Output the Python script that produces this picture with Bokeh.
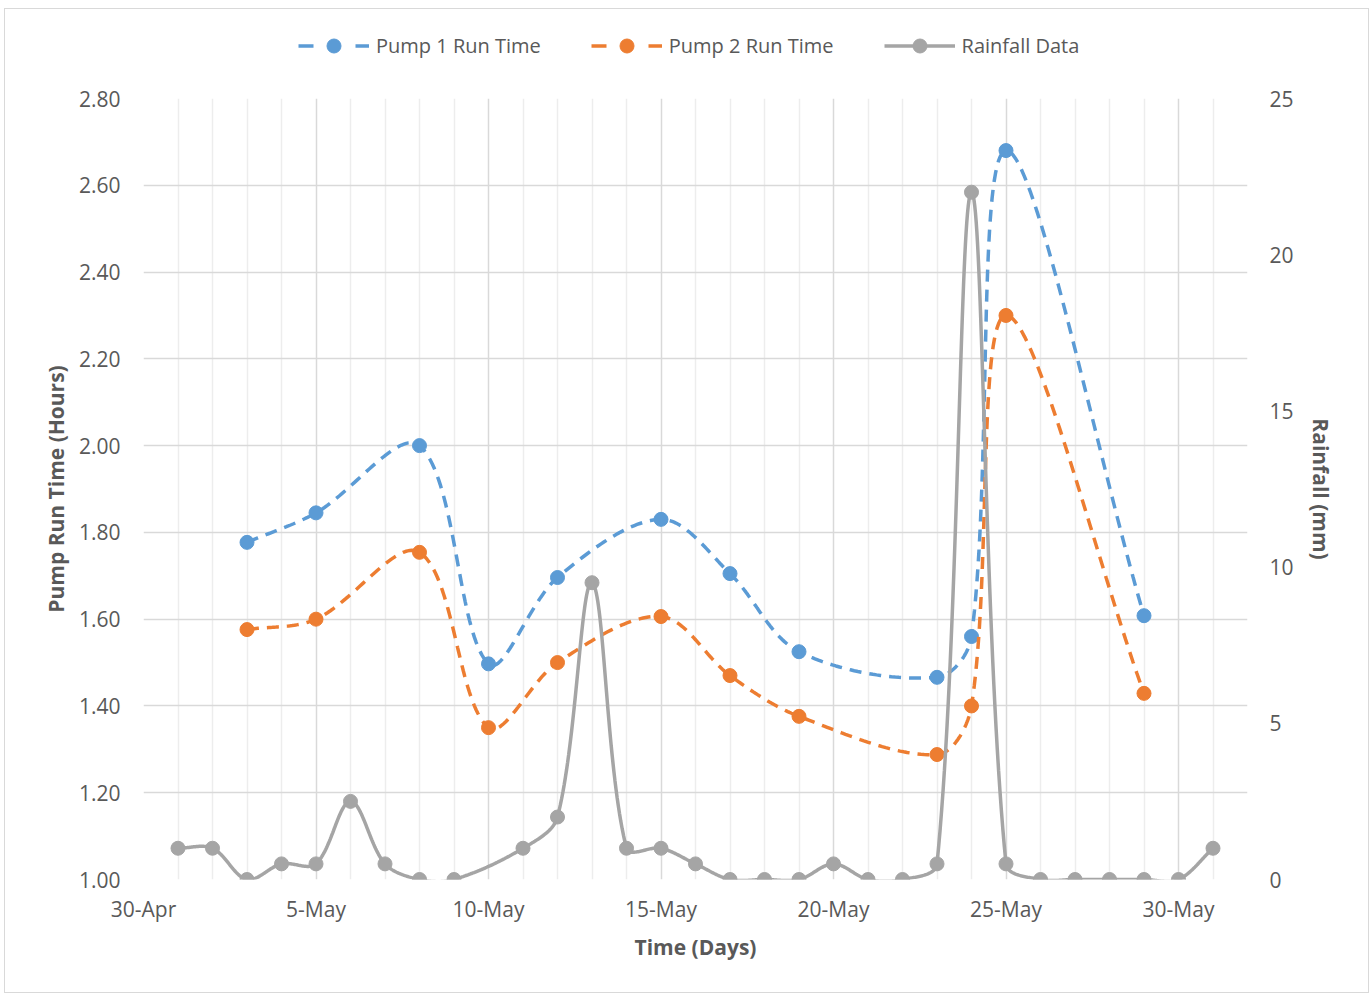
import numpy as np
import pandas as pd
from bokeh.plotting import figure
from bokeh.layouts import column
from bokeh.models import Range1d, LinearAxis, FixedTicker, Legend, LegendItem, PrintfTickFormatter
from bokeh.embed import file_html
from bokeh.resources import INLINE

# ---------------- data ----------------
start_date = "2017-04-30"
end_date = "2017-06-01"

pump_dates = ["2017-05-03", "2017-05-05", "2017-05-08", "2017-05-10", "2017-05-12", "2017-05-15",
              "2017-05-17", "2017-05-19", "2017-05-23", "2017-05-24", "2017-05-25", "2017-05-29"]
pump1_hours = [1.777, 1.845, 2.00, 1.497, 1.696, 1.83, 1.705, 1.525, 1.466, 1.56, 2.68, 1.608]
pump2_hours = [1.576, 1.60, 1.754, 1.35, 1.50, 1.606, 1.47, 1.376, 1.288, 1.40, 2.30, 1.429]

rain_dates = ["2017-05-01", "2017-05-02", "2017-05-03", "2017-05-04", "2017-05-05", "2017-05-06",
              "2017-05-07", "2017-05-08", "2017-05-09", "2017-05-10", "2017-05-11", "2017-05-12",
              "2017-05-13", "2017-05-14", "2017-05-15", "2017-05-16", "2017-05-17", "2017-05-18",
              "2017-05-19", "2017-05-20", "2017-05-21", "2017-05-22", "2017-05-23", "2017-05-24",
              "2017-05-25", "2017-05-26", "2017-05-27", "2017-05-28", "2017-05-29", "2017-05-30",
              "2017-05-31"]
rain_mm = [1.0, 1.0, 0.0, 0.5, 0.5, 2.5, 0.5, 0.0, 0.0, None, 1.0, 2.0, 9.5, 1.0, 1.0, 0.5,
           0.0, 0.0, 0.0, 0.5, 0.0, 0.0, 0.5, 22.0, 0.5, 0.0, 0.0, 0.0, 0.0, 0.0, 1.0]

x_tick_dates = ["2017-04-30", "2017-05-05", "2017-05-10", "2017-05-15", "2017-05-20", "2017-05-25", "2017-05-30"]
x_tick_labels = ["30-Apr", "5-May", "10-May", "15-May", "20-May", "25-May", "30-May"]
left_ticks = [1.0, 1.2, 1.4, 1.6, 1.8, 2.0, 2.2, 2.4, 2.6, 2.8]
right_ticks = [0, 5, 10, 15, 20, 25]

series_names = ["Pump 1 Run Time", "Pump 2 Run Time", "Rainfall Data"]
colors = ["#5B9BD5", "#ED7D31", "#A5A5A5"]

# ---------------- helpers ----------------
t0 = pd.Timestamp(start_date)
def day_num(ds):
    return np.array([(pd.Timestamp(d) - t0).days for d in ds], dtype=float)

x_end = day_num([end_date])[0]

W = 1363
LEG_H = 60          # legend strip height (above the plot)
BL, BT = 138, 29
FW, FH = 1104, 781
H = 923
BR, BB = W - BL - FW, H - BT - FH

def smooth(xs, ys, sx, sy, n=40):
    """Excel-like smoothed line (weighted Catmull-Rom Bezier) computed in screen space."""
    P = np.column_stack([np.asarray(xs) * sx, np.asarray(ys) * sy])
    m = len(P)
    outx, outy = [P[0, 0]], [P[0, 1]]
    tt = np.linspace(0, 1, n)[1:]
    for i in range(m - 1):
        p0 = P[i - 1] if i > 0 else P[i]
        p1, p2 = P[i], P[i + 1]
        p3 = P[i + 2] if i + 2 < m else P[i + 1]
        d01 = np.hypot(*(p1 - p0)); d12 = np.hypot(*(p2 - p1)); d23 = np.hypot(*(p3 - p2))
        w1 = d12 / (d01 + d12) if d01 + d12 > 0 else 0
        w2 = d12 / (d12 + d23) if d12 + d23 > 0 else 0
        c1 = p1 + (p2 - p0) * w1 / 3.0
        c2 = p2 - (p3 - p1) * w2 / 3.0
        b = ((1 - tt) ** 3)[:, None] * p1 + (3 * (1 - tt) ** 2 * tt)[:, None] * c1 + \
            (3 * (1 - tt) * tt ** 2)[:, None] * c2 + (tt ** 3)[:, None] * p2
        outx.extend(b[:, 0]); outy.extend(b[:, 1])
    return np.array(outx) / sx, np.array(outy) / sy

sx = FW / x_end
sy_left = FH / (left_ticks[-1] - left_ticks[0])
sy_right = FH / (right_ticks[-1] - right_ticks[0])

px = day_num(pump_dates)
rx_all = day_num(rain_dates)
rmask = np.array([v is not None for v in rain_mm])
rx = rx_all[rmask]
ry = np.array([v for v in rain_mm if v is not None], dtype=float)

s1x, s1y = smooth(px, pump1_hours, sx, sy_left)
s2x, s2y = smooth(px, pump2_hours, sx, sy_left)
srx, sry = smooth(rx, ry, sx, sy_right)
line_xy = [(s1x, s1y), (s2x, s2y), (srx, sry)]
point_xy = [(px, pump1_hours), (px, pump2_hours), (rx, ry)]

# ---------------- main figure ----------------
FONT = "Open Sans"
TXT = "#595959"
LW = 3.5
MS = 14
DASH = "12 8"

p = figure(width=W, height=H, x_range=Range1d(0, x_end), y_range=Range1d(left_ticks[0], left_ticks[-1]),
           output_backend="svg", toolbar_location=None,
           min_border_left=BL, min_border_right=BR, min_border_top=BT, min_border_bottom=BB)
p.outline_line_color = None
p.background_fill_color = "white"
p.border_fill_color = "white"

p.extra_y_ranges = {"rain": Range1d(right_ticks[0], right_ticks[-1])}

major_x = list(day_num(x_tick_dates))
minor_x = [float(d) for d in range(0, int(x_end) + 1) if float(d) not in major_x]
p.xaxis.ticker = FixedTicker(ticks=major_x, minor_ticks=minor_x)
p.xaxis.major_label_overrides = {float(k): v for k, v in zip(major_x, x_tick_labels)}
p.yaxis.ticker = FixedTicker(ticks=left_ticks)
p.yaxis.formatter = PrintfTickFormatter(format="%.2f")

raxis = LinearAxis(y_range_name="rain", ticker=FixedTicker(ticks=right_ticks), axis_label="Rainfall (mm)")
p.add_layout(raxis, "right")

p.xaxis.axis_label = "Time (Days)"
p.yaxis[0].axis_label = "Pump Run Time (Hours)"

for ax in [p.xaxis[0], p.yaxis[0], raxis]:
    ax.axis_line_color = None
    ax.major_tick_line_color = None
    ax.minor_tick_line_color = None
    ax.major_tick_out = 0
    ax.major_tick_in = 0
    ax.minor_tick_out = 0
    ax.minor_tick_in = 0
    ax.major_label_text_font = FONT
    ax.major_label_text_font_size = "21px"
    ax.major_label_text_color = TXT
    ax.axis_label_text_font = FONT
    ax.axis_label_text_font_size = "21px"
    ax.axis_label_text_font_style = "bold"
    ax.axis_label_text_color = TXT
p.xaxis.major_label_standoff = 15
p.yaxis[0].major_label_standoff = 23
raxis.major_label_standoff = 22
p.xaxis.axis_label_standoff = 7
p.yaxis[0].axis_label_standoff = 6
raxis.axis_label_standoff = 10

p.xgrid.grid_line_color = "#D9D9D9"
p.xgrid.grid_line_width = 1.5
p.xgrid.minor_grid_line_color = "#EDEDED"
p.xgrid.minor_grid_line_width = 1.5
p.ygrid.grid_line_color = "#D9D9D9"
p.ygrid.grid_line_width = 1.5

for i in range(3):
    rng = "rain" if i == 2 else "default"
    dash = DASH if i < 2 else "solid"
    (lx, ly), (mx, my) = line_xy[i], point_xy[i]
    p.line(lx, ly, line_color=colors[i], line_width=LW, line_dash=dash, y_range_name=rng)
    p.scatter(mx, my, size=MS, fill_color=colors[i], line_color=colors[i], y_range_name=rng)

# ---------------- legend strip (separate figure so the legend is not clipped) ----------------
lg = figure(width=W, height=LEG_H, x_range=Range1d(0, x_end), y_range=Range1d(0, 1),
            output_backend="svg", toolbar_location=None,
            x_axis_location=None, y_axis_location=None,
            min_border_left=0, min_border_right=0, min_border_top=0, min_border_bottom=0)
lg.outline_line_color = None
lg.grid.visible = False
lg.background_fill_color = "white"
lg.border_fill_color = "white"

items = []
for i, name in enumerate(series_names):
    (lx, ly), (mx, my) = line_xy[i], point_xy[i]
    dash = "15 42" if i < 2 else "solid"
    lr = lg.line(lx, ly, line_color=colors[i], line_width=LW, line_dash=dash, visible=False)
    sr = lg.scatter(mx, my, size=MS, fill_color=colors[i], line_color=colors[i], visible=False)
    items.append(LegendItem(label=name, renderers=[lr, sr]))

legend = Legend(items=items, orientation="horizontal", location=(155, 6),
                glyph_width=71, glyph_height=35, label_standoff=7, spacing=50,
                padding=0, margin=0, border_line_color=None, background_fill_alpha=0,
                label_text_font=FONT, label_text_font_size="20px", label_text_color=TXT)
lg.add_layout(legend, "center")

page = column(lg, p, spacing=0)
page.styles = {"border": "1px solid #D9D9D9", "margin-left": "4px", "margin-top": "8px"}

open("out.html", "w").write(file_html(page, INLINE))
